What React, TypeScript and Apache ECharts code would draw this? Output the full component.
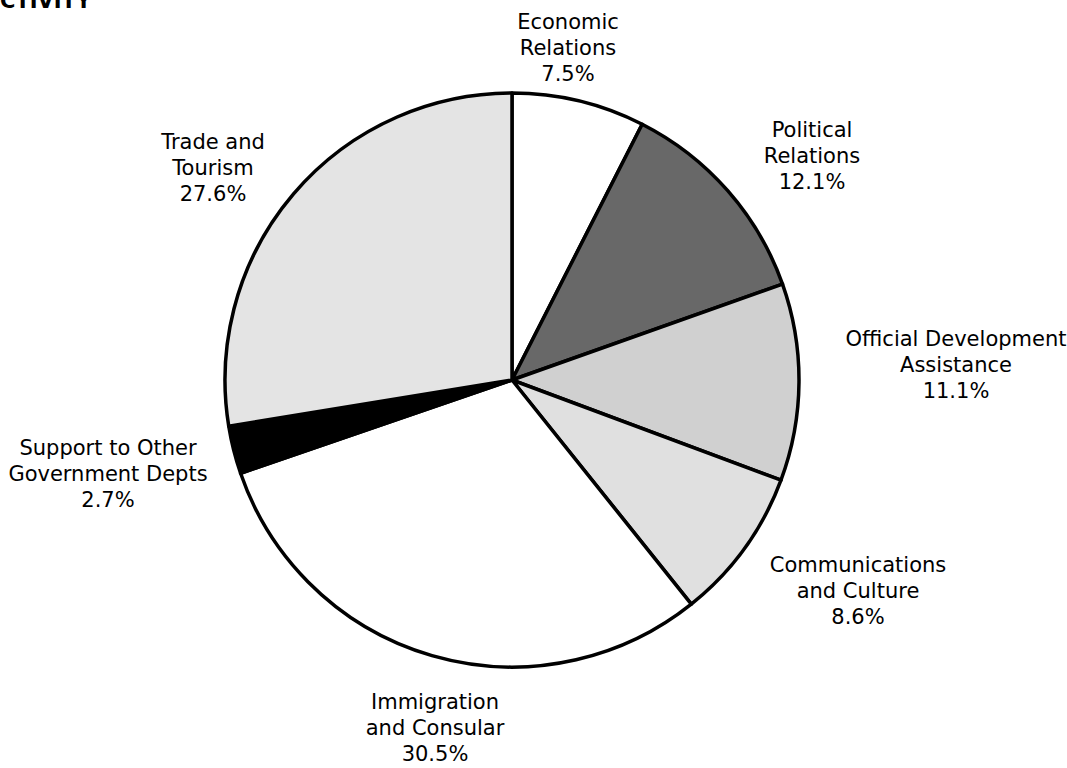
import React, { useEffect, useRef } from "react";
import * as echarts from "echarts";

const categories = [
  "Economic Relations",
  "Political Relations",
  "Official Development Assistance",
  "Communications and Culture",
  "Immigration and Consular",
  "Support to Other Government Depts",
  "Trade and Tourism",
];
const values = [7.5, 12.1, 11.1, 8.6, 30.5, 2.7, 27.6];
const labelLines = [
  ["Economic", "Relations"],
  ["Political", "Relations"],
  ["Official Development", "Assistance"],
  ["Communications", "and Culture"],
  ["Immigration", "and Consular"],
  ["Support to Other", "Government Depts"],
  ["Trade and", "Tourism"],
];
const sliceColors = ["#ffffff", "#686868", "#d0d0d0", "#e0e0e0", "#ffffff", "#000000", "#e4e4e4"];
const labelPos = [
  [568, 9],
  [812, 117],
  [956, 326],
  [858, 552],
  [435, 689],
  [108, 435],
  [213, 129],
];

export default function App() {
  const ref = useRef<HTMLDivElement>(null);
  useEffect(() => {
    if (!ref.current) return;
    const chart = echarts.init(ref.current, undefined, { renderer: "svg" });
    const font = "DejaVu Sans";
    const labels = categories.map((c, i) => ({
      type: "text",
      x: labelPos[i][0],
      y: labelPos[i][1],
      style: {
        text: [...labelLines[i], values[i].toFixed(1) + "%"].join("\n"),
        font: `21px "${font}"`,
        fill: "#000",
        align: "center",
        verticalAlign: "top",
        lineHeight: 26,
      },
    }));
    chart.setOption({
      animation: false,
      backgroundColor: "#ffffff",
      graphic: [
        {
          type: "text",
          x: 0,
          y: -10,
          style: {
            text: "CTIVITY",
            font: `bold 21px "${font}"`,
            fill: "#000",
          },
        },
        ...labels,
      ],
      series: [
        {
          type: "pie",
          center: [512, 380],
          radius: [0, 287],
          startAngle: 90,
          clockwise: true,
          label: { show: false },
          labelLine: { show: false },
          itemStyle: { borderColor: "#000", borderWidth: 3.5 },
          data: categories.map((c, i) => ({
            name: c,
            value: values[i],
            itemStyle: { color: sliceColors[i] },
          })),
        },
      ],
    });
    return () => chart.dispose();
  }, []);
  return (
    <div
      ref={ref}
      style={{ position: "fixed", left: 0, top: 0, width: 1067, height: 768 }}
    />
  );
}
